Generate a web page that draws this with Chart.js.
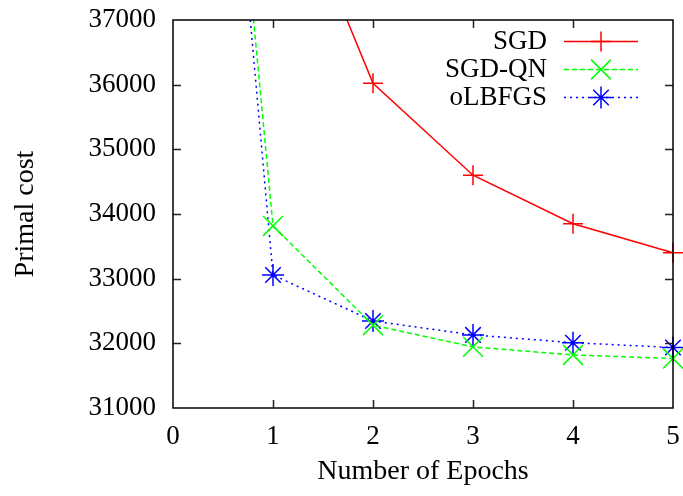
<!DOCTYPE html>
<html>
<head>
<meta charset="utf-8">
<script src="https://cdn.jsdelivr.net/npm/chart.js@4/dist/chart.umd.min.js"></script>
<style>
html,body{margin:0;padding:0;background:#fff;}
#wrap{width:683px;height:496px;}
</style>
</head>
<body>
<div id="wrap"><canvas id="c" width="683" height="496"></canvas></div>
<script>
const epochs = [0, 1, 2, 3, 4, 5];
const sgd = [52000, 39790, 36020, 34600, 33850, 33400];
const sgdqn = [50200, 33815, 32280, 31945, 31820, 31765];
const olbfgs = [50400, 33057, 32345, 32130, 32010, 31935];
const xTicks = [0, 1, 2, 3, 4, 5];
const yTicks = [31000, 32000, 33000, 34000, 35000, 36000, 37000];
const seriesNames = ['SGD', 'SGD-QN', 'oLBFGS'];

const FONT = 'Liberation Serif';

function toXY(ys){ return epochs.map((x,i)=>({x:x,y:ys[i]})); }

const innerTicks = {
  id:'innerTicks',
  afterDatasetsDraw(chart){
    const ctx = chart.ctx, a = chart.chartArea;
    const xs = chart.scales.x, ys = chart.scales.y;
    ctx.save();
    ctx.strokeStyle = '#222';
    ctx.lineWidth = 1.5;
    ctx.beginPath();
    const L = 8;
    xTicks.forEach(v=>{
      const px = Math.round(xs.getPixelForValue(v))+0.5;
      if (v===xTicks[0]||v===xTicks[xTicks.length-1]) return;
      ctx.moveTo(px,a.bottom); ctx.lineTo(px,a.bottom-L);
      ctx.moveTo(px,a.top); ctx.lineTo(px,a.top+L);
    });
    yTicks.forEach(v=>{
      const py = Math.round(ys.getPixelForValue(v))+0.5;
      if (v===yTicks[0]||v===yTicks[yTicks.length-1]) return;
      ctx.moveTo(a.left,py); ctx.lineTo(a.left+L,py);
      ctx.moveTo(a.right,py); ctx.lineTo(a.right-L,py);
    });
    ctx.stroke();
    ctx.strokeStyle = '#000';
    ctx.lineWidth = 1.5;
    ctx.strokeRect(a.left, a.top, a.right-a.left, a.bottom-a.top);
    ctx.restore();
  }
};

const customLegend = {
  id:'customLegend',
  afterDraw(chart){
    const ctx = chart.ctx;
    const rowsY = [41, 69, 97];
    ctx.save();
    ctx.font = '27px "' + FONT + '"';
    ctx.textAlign = 'right';
    ctx.textBaseline = 'middle';
    chart.data.datasets.forEach((ds,i)=>{
      const y = rowsY[i];
      ctx.fillStyle = '#000';
      ctx.fillText(ds.label, 547, y+1);
      ctx.strokeStyle = ds.borderColor;
      ctx.lineWidth = ds.borderWidth;
      ctx.setLineDash(ds.borderDash || []);
      ctx.beginPath();
      ctx.moveTo(564, y+0.5); ctx.lineTo(638, y+0.5);
      ctx.stroke();
      ctx.setLineDash([]);
      Chart.helpers.drawPoint(ctx, {pointStyle: ds.pointStyle, radius: ds.pointRadius, borderWidth: ds.pointBorderWidth || 1.5}, 601, y+0.5);
    });
    ctx.restore();
  }
};

new Chart(document.getElementById('c'), {
  type:'line',
  data:{
    datasets:[
      {label:seriesNames[0], data:toXY(sgd), borderColor:'#ff0000', backgroundColor:'#ff0000', borderWidth:1.5,
       pointStyle:'cross', pointRadius:10, pointBorderWidth:1.5, pointBorderColor:'#ff0000',
       clip:{left:0, top:0, right:15, bottom:0}},
      {label:seriesNames[1], data:toXY(sgdqn), borderColor:'#00ff00', backgroundColor:'#00ff00', borderWidth:1.5, borderDash:[5,3],
       pointStyle:'crossRot', pointRadius:14, pointBorderWidth:1.5, pointBorderColor:'#00ff00',
       clip:{left:0, top:0, right:15, bottom:0}},
      {label:seriesNames[2], data:toXY(olbfgs), borderColor:'#0000ff', backgroundColor:'#0000ff', borderWidth:1.5, borderDash:[2,4],
       pointStyle:'star', pointRadius:11, pointBorderWidth:1.5, pointBorderColor:'#0000ff',
       clip:{left:0, top:0, right:15, bottom:0}}
    ]
  },
  options:{
    responsive:false,
    animation:false,
    devicePixelRatio:1,
    layout:{autoPadding:false, padding:{left:0, right:10, top:20, bottom:0}},
    plugins:{legend:{display:false}, tooltip:{enabled:false}},
    scales:{
      x:{
        type:'linear', min:0, max:5,
        afterBuildTicks(s){ s.ticks = xTicks.map(v=>({value:v})); },
        afterFit(s){ s.height = 88; s.paddingLeft = 0; s.paddingRight = 0; },
        grid:{display:false, drawTicks:false},
        border:{display:false},
        ticks:{color:'#000', font:{family:FONT, size:27}, padding:13, maxRotation:0, autoSkip:false},
        title:{display:true, text:'Number of Epochs', color:'#000', font:{family:FONT, size:28}, padding:{top:0,bottom:8}}
      },
      y:{
        type:'linear', min:31000, max:37000,
        afterBuildTicks(s){ s.ticks = yTicks.map(v=>({value:v})); },
        afterFit(s){ s.width = 173; s.paddingTop = 0; s.paddingBottom = 0; },
        grid:{display:false, drawTicks:false},
        border:{display:false},
        ticks:{color:'#000', font:{family:FONT, size:27}, padding:17, autoSkip:false, callback:v=>String(v)},
        title:{display:true, text:'Primal cost', color:'#000', font:{family:FONT, size:28}, padding:{top:9,bottom:0}}
      }
    }
  },
  plugins:[innerTicks, customLegend]
});
</script>
</body>
</html>
